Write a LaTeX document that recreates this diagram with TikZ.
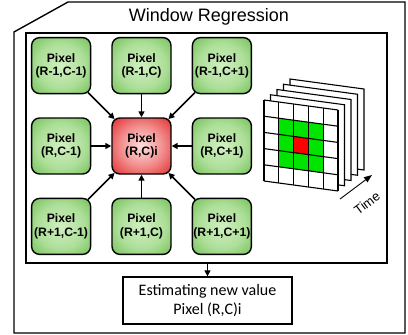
\documentclass[tikz,border=0pt]{standalone}
\usepackage{fontspec}
\setmainfont{Liberation Sans}
\newfontfamily\calib{Carlito}
\usepackage{xcolor}
\usepackage{tikz}
\usetikzlibrary{arrows.meta, positioning}
\definecolor{leafgreen}{RGB}{92,182,62}
\definecolor{leaflight}{RGB}{208,240,192}
\definecolor{hotred}{RGB}{222,22,22}
\definecolor{hotlight}{RGB}{255,222,222}
\definecolor{cellgreen}{RGB}{0,228,0}
\definecolor{cellred}{RGB}{255,0,0}
\pgfdeclareradialshading{bevelgreen}{\pgfpoint{0bp}{0bp}}{color(0bp)=(leaflight); color(20bp)=(leaflight!70!leafgreen); color(42bp)=(leafgreen); color(50bp)=(leafgreen)}
\pgfdeclareradialshading{bevelred}{\pgfpoint{0bp}{0bp}}{color(0bp)=(hotlight); color(18bp)=(hotlight!60!hotred); color(40bp)=(hotred); color(50bp)=(hotred)}
\newcommand{\pix}[1]{Pixel\\#1}

\begin{document}
\begin{tikzpicture}[x=1pt, y=-1pt, node distance=23pt and 20pt,
      every node/.style={font=\fontsize{12.2}{13.5}\selectfont\bfseries},
      pixel/.style={draw=black, line width=1.4pt, rounded corners=8pt, shading=bevelgreen,
                    align=center, inner sep=0pt, minimum width=59pt, minimum height=56pt},
      target/.style={pixel, shading=bevelred},
      ar/.style={-{Triangle[length=6pt, width=6pt]}, draw=black, line width=1.6pt},
      diag/.style={ar, shorten >=-2.5pt, shorten <=-2.5pt}]
    \useasboundingbox (0,0) rectangle (408,335);
    % outer frame with cut corner
    \draw[line width=1.4pt] (14,32) -- (68,2) -- (405,2) -- (405,333) -- (14,333) -- cycle;
    \node[font=\fontsize{18}{21}\selectfont] (title) at (209,17) {Window Regression};
    \node[draw, line width=1.8pt, inner sep=0pt, minimum width=361pt, minimum height=230pt] (win) at (206.5,148) {};
    % pixel neighbourhood
    \node[target] (c) at (141.5,146) {\pix{(R,C)i}};
    \node[pixel, above left=of c] (nw) {\pix{(R-1,C-1)}};
    \node[pixel, above=of c] (n) {\pix{(R-1,C)}};
    \node[pixel, above right=of c] (ne) {\pix{(R-1,C+1)}};
    \node[pixel, left=of c] (w) {\pix{(R,C-1)}};
    \node[pixel, right=of c] (e) {\pix{(R,C+1)}};
    \node[pixel, below left=of c] (sw) {\pix{(R+1,C-1)}};
    \node[pixel, below=of c] (s) {\pix{(R+1,C)}};
    \node[pixel, below right=of c] (se) {\pix{(R+1,C+1)}};
    \draw[ar] (n) -- (c); \draw[ar] (s) -- (c); \draw[ar] (w) -- (c); \draw[ar] (e) -- (c);
    \draw[diag] (nw) -- (c); \draw[diag] (ne) -- (c); \draw[diag] (sw) -- (c); \draw[diag] (se) -- (c);
    % frames over time
    \begin{scope}[shift={(264,100)}, x={(14.8pt,-2pt)}, y={(0pt,-16.2pt)}, line width=1.1pt]
      \foreach \k in {4,3,2,1}
        \filldraw[fill=white, xshift=\k*6.5pt, yshift=\k*5.25pt] (0,0) -- (5,0) -- (5,5) -- (0,5) -- cycle;
      \fill[white] (0,0) -- (5,0) -- (5,5) -- (0,5) -- cycle;
      \foreach \i in {1,2,3}
        \foreach \j in {1,2,3}
          \fill[cellgreen] (\i,\j) -- ++(1,0) -- ++(0,1) -- ++(-1,0) -- cycle;
      \fill[cellred] (2,2) -- ++(1,0) -- ++(0,1) -- ++(-1,0) -- cycle;
      \foreach \i in {0,...,5} {
        \draw (\i,0) -- (\i,5);
        \draw (0,\i) -- (5,\i);
      }
    \end{scope}
    \coordinate (t0) at (340,199);
    \coordinate (t1) at (372,175);
    \draw[-{Triangle[length=8pt, width=6pt]}, line width=0.9pt] (t0) -- (t1);
    \node[font=\fontsize{13}{15}\selectfont, rotate=37, inner sep=1pt] (time) at (367,203) {Time};
    % result
    \node[draw, line width=1.4pt, minimum width=169pt, minimum height=47pt, align=center,
          font=\calib\fontsize{16}{19}\selectfont] (est) at (207.5,300.5) {Estimating new value\\Pixel (R,C)i};
    \draw[ar, line width=1.3pt] (win.south -| est.north) -- (est.north);
\end{tikzpicture}
\end{document}
